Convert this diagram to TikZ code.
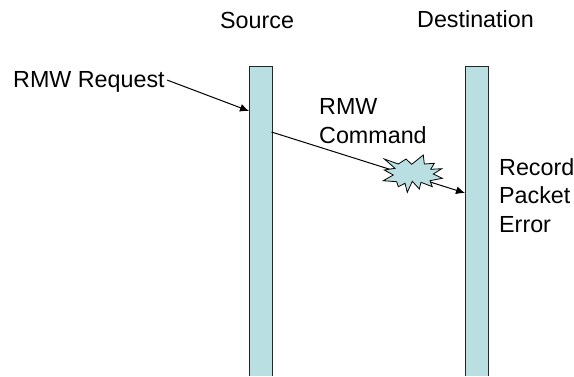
\documentclass[tikz,border=0pt]{standalone}
\usepackage{fontspec}
\usetikzlibrary{arrows.meta}
\setmainfont{Liberation Sans}
\definecolor{barfill}{RGB}{185,223,227}
\begin{document}
\begin{tikzpicture}[x=1pt,y=-1pt,
  lifeline/.style={draw=black!85,fill=barfill,line width=0.9pt,inner sep=0pt,anchor=north west},
  label/.style={font=\fontsize{23.3}{28.2}\selectfont,inner sep=0pt,anchor=base west,align=left},
  msg/.style={draw=black,line width=1pt,-{Latex[length=9pt,width=8pt]}},
  burst/.style={draw=black,fill=barfill,line width=0.8pt}]
\useasboundingbox (0,0) rectangle (574,376);
\fill[white] (0,0) rectangle (574,376);
\node[lifeline,minimum width=22.5pt,minimum height=320pt] (src) at (249,66) {};
\node[lifeline,minimum width=23pt,minimum height=320pt] (dst) at (465,66) {};
\fill[white] (240,376) rectangle (500,390);
\node[label] (srcl) at (220,28) {Source};
\node[label] (dstl) at (417,27) {Destination};
\node[label] (req) at (13,87) {RMW Request};
\node[label] (cmd) at (319,143) {RMW\\Command};
\node[label] (err) at (499,232) {Record\\Packet\\Error};
\coordinate (reqs) at (167,80);
\coordinate (cmds) at (271.5,132);
\draw[msg] (reqs) -- (src.north west |- 0,111);
\draw[msg] (cmds) -- (dst.north west |- 0,193);
\path[burst] (384.3,159) -- (398.3,164) -- (406,159) -- (411.7,164.3) -- (423.3,155) -- (424.3,164) -- (434.3,163.3) -- (430.7,169.3) -- (441.7,168.7) -- (433.3,174) -- (442.3,178.3) -- (430,180.7) -- (432.3,186.7) -- (421,182.3) -- (419.3,189) -- (412.3,181.3) -- (407.3,192.3) -- (405,183.3) -- (398.3,186.7) -- (396.7,181.7) -- (383.3,180.7) -- (393.3,175) -- (384.3,170) -- (395,168.3) -- cycle;
\end{tikzpicture}
\end{document}
